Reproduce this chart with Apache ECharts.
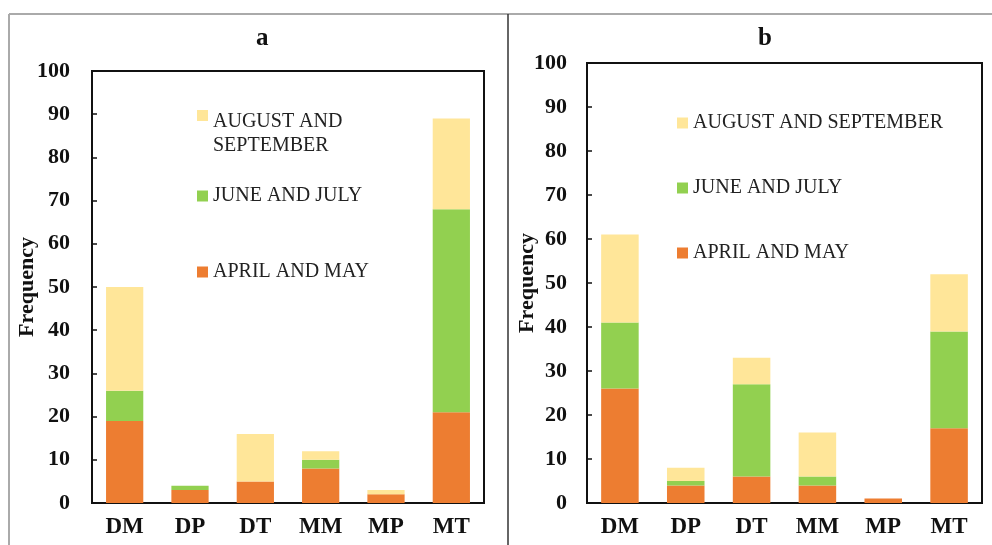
<!DOCTYPE html>
<html>
<head>
<meta charset="utf-8">
<script src="https://cdn.jsdelivr.net/npm/echarts@6/dist/echarts.min.js"></script>
<style>html,body{margin:0;padding:0;background:#fff}#c{width:992px;height:545px}</style>
</head>
<body>
<div id="c"></div>
<script>
const categories = ['DM', 'DP', 'DT', 'MM', 'MP', 'MT'];
const yTicks = [0, 10, 20, 30, 40, 50, 60, 70, 80, 90, 100];
const seriesNames = ['APRIL AND MAY', 'JUNE AND JULY', 'AUGUST AND SEPTEMBER'];
// panel a
const aAprilMay = [19, 3, 5, 8, 2, 21];
const aJuneJuly = [7, 1, 0, 2, 0, 47];
const aAugSep = [24, 0, 11, 2, 1, 21];
// panel b
const bAprilMay = [26, 4, 6, 4, 1, 17];
const bJuneJuly = [15, 1, 21, 2, 0, 22];
const bAugSep = [20, 3, 6, 10, 0, 13];

const colors = ['#ED7D31', '#92D050', '#FFE699'];
const FONT = 'Liberation Serif';

const chart = echarts.init(document.getElementById('c'));

function xAxis(gi) {
  return {
    type: 'category', gridIndex: gi, data: categories,
    axisLine: {lineStyle: {color: '#111', width: 2}},
    axisTick: {show: false},
    axisLabel: {color: '#111', fontFamily: FONT, fontWeight: 'bold', fontSize: 23, margin: 13}
  };
}
function yAxis(gi, nameGap, labelMargin) {
  return {
    type: 'value', gridIndex: gi, min: yTicks[0], max: yTicks[yTicks.length - 1], interval: 10,
    name: 'Frequency', nameLocation: 'middle', nameGap: nameGap, nameMoveOverlap: false,
    nameTextStyle: {color: '#111', fontFamily: FONT, fontWeight: 'bold', fontSize: 22},
    axisLine: {show: true, lineStyle: {color: '#111', width: 2}},
    axisTick: {show: true, inside: true, length: 5, lineStyle: {color: '#111', width: 1.5}},
    splitLine: {show: false},
    axisLabel: {color: '#111', fontFamily: FONT, fontWeight: 'bold', fontSize: 22, margin: labelMargin}
  };
}
function bars(gi, data) {
  return data.map((d, i) => ({
    name: seriesNames[i], type: 'bar', stack: 's' + gi,
    xAxisIndex: gi, yAxisIndex: gi, data: d, barWidth: '57%',
    itemStyle: {color: colors[i]}
  }));
}
function legend(name, left, top, twoLine) {
  const l = {
    data: [name], left: left, top: top, icon: 'rect', itemWidth: 11, itemHeight: 11,
    selectedMode: false,
    textStyle: {color: '#222', fontFamily: FONT, fontSize: 20, lineHeight: 24}
  };
  if (twoLine) {
    l.formatter = () => 'AUGUST AND\nSEPTEMBER';
    l.icon = 'path://M0,0H11V11H0Z M0,47.99H0.01V48H0Z';
    l.itemHeight = 48;
  }
  return l;
}

chart.setOption({
  animation: false,
  backgroundColor: '#fff',
  title: [
    {text: 'a', left: 251, top: 21, textStyle: {fontFamily: FONT, fontWeight: 'bold', fontSize: 25, color: '#111'}},
    {text: 'b', left: 753, top: 21, textStyle: {fontFamily: FONT, fontWeight: 'bold', fontSize: 25, color: '#111'}}
  ],
  grid: [
    {left: 92, top: 71, width: 392, height: 432, show: true, borderColor: '#111', borderWidth: 2, backgroundColor: 'transparent'},
    {left: 587, top: 63, width: 395, height: 440, show: true, borderColor: '#111', borderWidth: 2, backgroundColor: 'transparent'}
  ],
  xAxis: [xAxis(0), xAxis(1)],
  yAxis: [yAxis(0, 54, 22), yAxis(1, 49, 20)],
  legend: [
    legend('AUGUST AND SEPTEMBER', 192, 105, true),
    legend('JUNE AND JULY', 192, 179),
    legend('APRIL AND MAY', 192, 255),
    legend('AUGUST AND SEPTEMBER', 672, 106),
    legend('JUNE AND JULY', 672, 171),
    legend('APRIL AND MAY', 672, 236)
  ],
  series: [
    ...bars(0, [aAprilMay, aJuneJuly, aAugSep]),
    ...bars(1, [bAprilMay, bJuneJuly, bAugSep])
  ],
  graphic: [
    {type: 'line', shape: {x1: 9, y1: 14, x2: 992, y2: 14}, style: {stroke: '#aaa', lineWidth: 2}},
    {type: 'line', shape: {x1: 9, y1: 14, x2: 9, y2: 545}, style: {stroke: '#aaa', lineWidth: 2}},
    {type: 'line', shape: {x1: 508, y1: 14, x2: 508, y2: 545}, style: {stroke: '#333', lineWidth: 1.5}}
  ]
});
</script>
</body>
</html>
